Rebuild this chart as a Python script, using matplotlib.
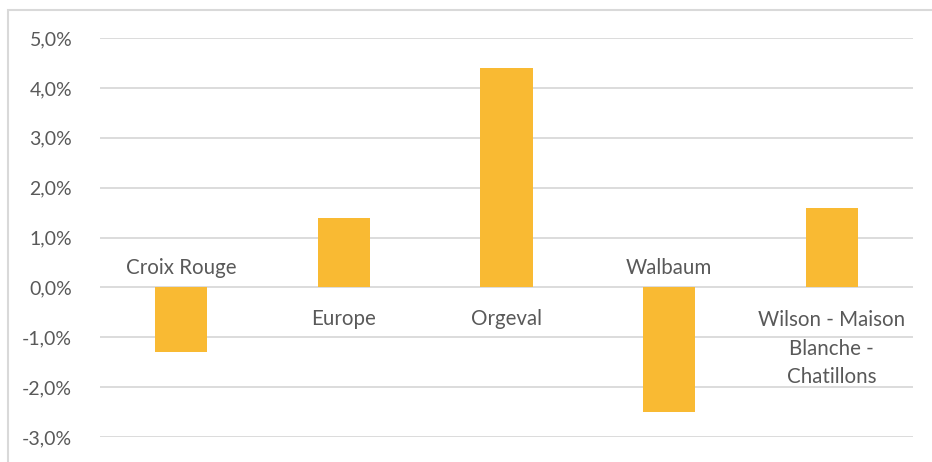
import matplotlib.pyplot as plt
import numpy as np
from matplotlib.patches import Rectangle
from matplotlib.ticker import FuncFormatter

# données
quartiers = ['Croix Rouge', 'Europe', 'Orgeval', 'Walbaum', 'Wilson - Maison\nBlanche -\nChatillons']
evolution = [-1.3, 1.4, 4.4, -2.5, 1.6]
graduations = [-3, -2, -1, 0, 1, 2, 3, 4, 5]

gris_texte = '#595959'
gris_grille = '#D9D9D9'
orange = '#F9BA33'

plt.rcParams['font.family'] = ['Lato', 'DejaVu Sans']

fig = plt.figure(figsize=(9.32, 4.62), dpi=100)

# cadre du graphique (bord clair en haut et à gauche)
cadre = Rectangle((8/932, -0.1), 1.2, 1.1 - 10/462, transform=fig.transFigure,
                  fill=False, ec=gris_grille, lw=1.5)
fig.patches.append(cadre)

ax = fig.add_axes([100/932, 25/462, 813/932, 399/462])

x = np.arange(len(quartiers))
ax.bar(x, evolution, width=0.32, color=orange, zorder=3)

ax.set_xlim(-0.5, len(quartiers) - 0.5)
ax.set_ylim(-3, 5)
ax.set_yticks(graduations)
ax.yaxis.set_major_formatter(FuncFormatter(lambda v, p: ('%.1f%%' % v).replace('.', ',')))
ax.tick_params(axis='y', length=0, pad=20, labelsize=14, labelcolor=gris_texte)
ax.set_xticks([])
ax.grid(axis='y', color=gris_grille, lw=1.3, zorder=0)
for s in ax.spines.values():
    s.set_visible(False)

# étiquettes des catégories près de l'axe zéro
interligne = 29  # px entre deux lignes
for i, (nom, v) in enumerate(zip(quartiers, evolution)):
    n = nom.count('\n')
    if v >= 0:
        dy = -38 - n * interligne
    else:
        dy = 13
    ax.annotate(nom, (i, 0), xytext=(0, dy * 0.72), textcoords='offset points',
                ha='center', va='baseline', fontsize=14.8, color=gris_texte,
                linespacing=1.55)

plt.savefig('out.png', dpi=100)
